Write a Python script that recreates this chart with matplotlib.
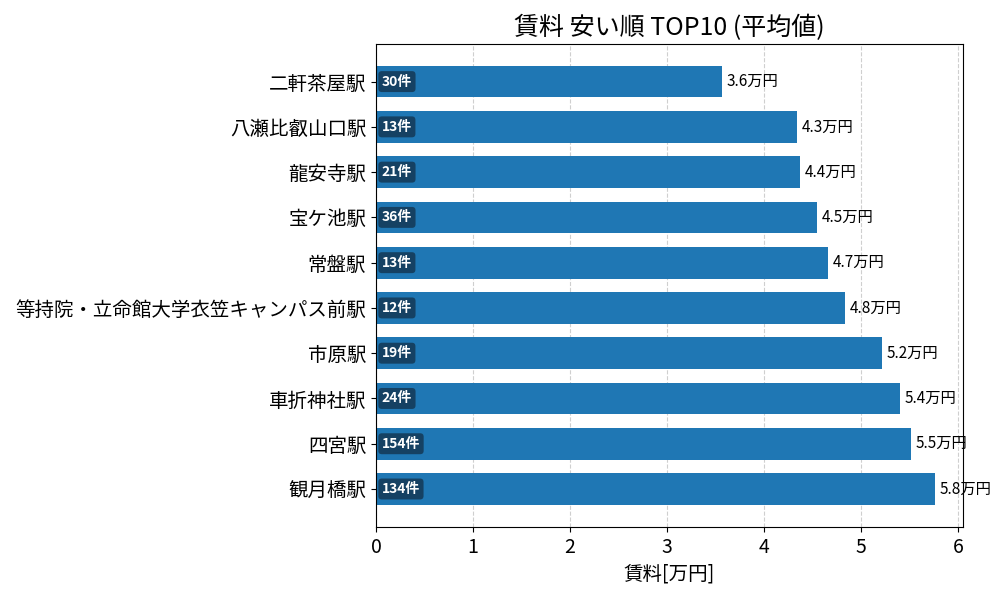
import matplotlib
matplotlib.use("Agg")
import matplotlib.pyplot as plt

plt.rcParams['font.family'] = ['Noto Sans CJK JP', 'DejaVu Sans']

stations = ["二軒茶屋駅", "八瀬比叡山口駅", "龍安寺駅", "宝ケ池駅", "常盤駅",
            "等持院・立命館大学衣笠キャンパス前駅", "市原駅", "車折神社駅", "四宮駅", "観月橋駅"]
rents = [3.56, 4.34, 4.37, 4.54, 4.66, 4.83, 5.21, 5.40, 5.51, 5.76]
counts = [30, 13, 21, 36, 13, 12, 19, 24, 154, 134]
value_labels = ["3.6万円", "4.3万円", "4.4万円", "4.5万円", "4.7万円",
                "4.8万円", "5.2万円", "5.4万円", "5.5万円", "5.8万円"]

fig, ax = plt.subplots(figsize=(10, 6), dpi=100)
y = list(range(len(stations)))
ax.barh(y, rents, height=0.7, color='#1f77b4', zorder=2)
ax.set_yticks(y)
ax.set_yticklabels(stations, fontsize=14)
ax.invert_yaxis()
ax.set_xlim(0, max(rents) * 1.05)
ax.tick_params(axis='x', labelsize=14)
ax.grid(axis='x', linestyle='--', alpha=0.6, zorder=0)
ax.set_axisbelow(True)

for yi, r, lab, c in zip(y, rents, value_labels, counts):
    ax.text(r + 0.05, yi, lab, va='center', ha='left', fontsize=11)
    ax.text(0.06, yi, f"{c}件", va='center', ha='left', fontsize=10, color='white',
            fontweight='bold',
            bbox=dict(boxstyle='round,pad=0.25', facecolor='#143c5a', edgecolor='none', alpha=0.9))

ax.set_xlabel("賃料[万円]", fontsize=14)
ax.set_title("賃料 安い順 TOP10 (平均値)", fontsize=18)
fig.subplots_adjust(left=0.376, right=0.963, top=0.927, bottom=0.122)
fig.savefig("out.png")
